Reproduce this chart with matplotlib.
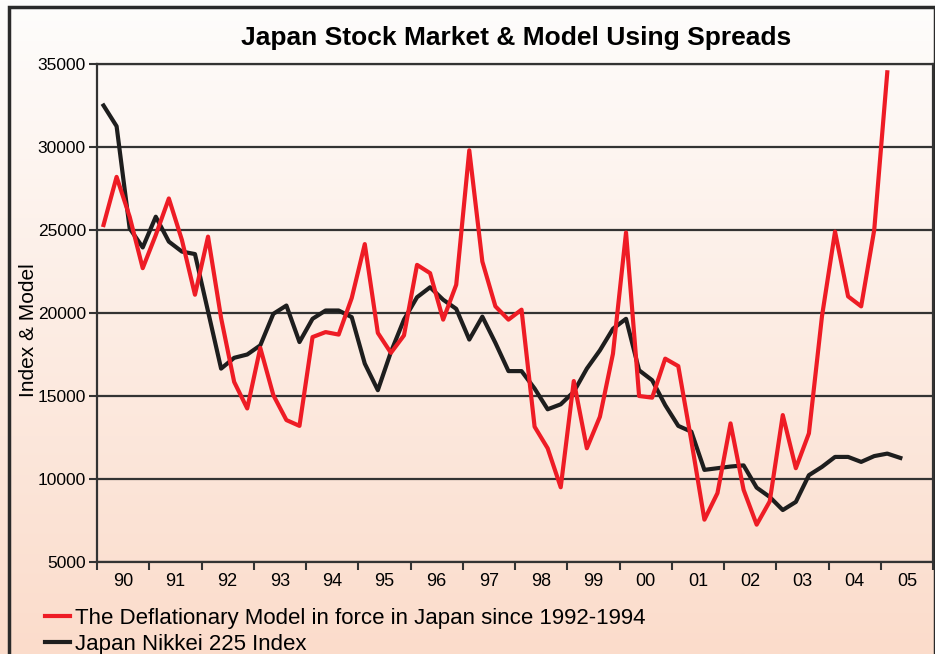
import numpy as np
import matplotlib.pyplot as plt
from matplotlib.colors import LinearSegmentedColormap
from matplotlib.patches import Rectangle

# quarterly values, 1990 Q1 onwards
years = ['90', '91', '92', '93', '94', '95', '96', '97',
         '98', '99', '00', '01', '02', '03', '04', '05']
model = [25300, 28200, 25800, 22700, 24700, 26900, 24400, 21100,
         24600, 19700, 15850, 14250, 17900, 15050, 13550, 13200,
         18550, 18850, 18700, 20900, 24150, 18800, 17600, 18650,
         22900, 22400, 19600, 21700, 29800, 23100, 20400, 19600,
         20200, 13150, 11850, 9500, 15900, 11850, 13750, 17550,
         24850, 15000, 14900, 17250, 16800, 12300, 7550, 9150,
         13350, 9350, 7250, 8650, 13850, 10650, 12750, 19800,
         24900, 21000, 20400, 25000, 34500]
nikkei = [32500, 31250, 25100, 23950, 25800, 24300, 23700, 23550,
          20100, 16650, 17300, 17500, 18050, 19950, 20450, 18250,
          19650, 20150, 20150, 19750, 16950, 15350, 17650, 19600,
          20950, 21550, 20800, 20250, 18400, 19780, 18200, 16500,
          16500, 15450, 14200, 14500, 15250, 16650, 17750, 19050,
          19650, 16550, 15950, 14450, 13200, 12850, 10550, 10650,
          10750, 10820, 9480, 8920, 8130, 8620, 10230, 10730,
          11330, 11330, 11030, 11380, 11530, 11270]

fig = plt.figure(figsize=(9.35, 6.54), dpi=100)

# background gradient and frame
bg = fig.add_axes([0, 0, 1, 1], zorder=-1)
grad = np.linspace(0, 1, 256).reshape(-1, 1)
cmap = LinearSegmentedColormap.from_list('peach', ['#fefdfc', '#fbdccb'])
bg.imshow(grad, aspect='auto', cmap=cmap, extent=[0, 1, 0, 1], origin='upper')
bg.add_patch(Rectangle((9 / 935, -0.05), 0.99, 1 - 7 / 654 + 0.05,
                       fill=False, lw=2.5, ec='#2a2a2a'))
bg.set_xlim(0, 1)
bg.set_ylim(0, 1)
bg.axis('off')

sans = ['Liberation Sans', 'DejaVu Sans']

ax = fig.add_axes([97 / 935, 1 - 562 / 654, 836 / 935, 498 / 654])
ax.patch.set_alpha(0)

x_n = np.arange(len(nikkei)) + 0.5
x_m = np.arange(len(model)) + 0.5
ax.plot(x_n, nikkei, color='#1e1e1e', lw=3, label='Japan Nikkei 225 Index', zorder=3)
ax.plot(x_m, model, color='#ee1c25', lw=3, zorder=4,
        label='The Deflationary Model in force in Japan since 1992-1994')

ax.set_xlim(0, 64)
ax.set_ylim(5000, 35000)
ax.set_yticks(range(5000, 35001, 5000))
ax.set_xticks(np.arange(0, 65, 4))
ax.set_xticklabels([])
ax.set_xticks(np.arange(2, 64, 4), minor=True)
ax.set_xticklabels(years, minor=True, family=sans, fontsize=13)
ax.tick_params(axis='x', which='minor', length=0, pad=8)
ax.tick_params(axis='x', which='major', length=6, width=1.5, color='#333')
ax.tick_params(axis='y', length=6, width=1.5, color='#333', pad=2)
for lbl in ax.get_yticklabels():
    lbl.set_family(sans)
    lbl.set_fontsize(12.5)

ax.yaxis.grid(True, color='#333', lw=1.6)
ax.set_axisbelow(True)
for s in ax.spines.values():
    s.set_color('#333')
    s.set_linewidth(1.6)

ax.set_ylabel('Index & Model', family=sans, fontsize=15)
ax.yaxis.set_label_coords(-0.071, 0.466)

fig.text(516 / 935, 1 - 38 / 654, 'Japan Stock Market & Model Using Spreads',
         ha='center', va='center', fontsize=19, fontweight='bold', family=sans)

h, l = ax.get_legend_handles_labels()
leg = ax.legend(h[::-1], l[::-1], loc='upper left', bbox_to_anchor=(36 / 935, 1 - 599 / 654),
                bbox_transform=fig.transFigure, frameon=False, handlelength=1.15,
                handletextpad=0.2, labelspacing=0.22, borderaxespad=0,
                prop={'family': sans, 'size': 16})

fig.savefig('out.png', dpi=100)
